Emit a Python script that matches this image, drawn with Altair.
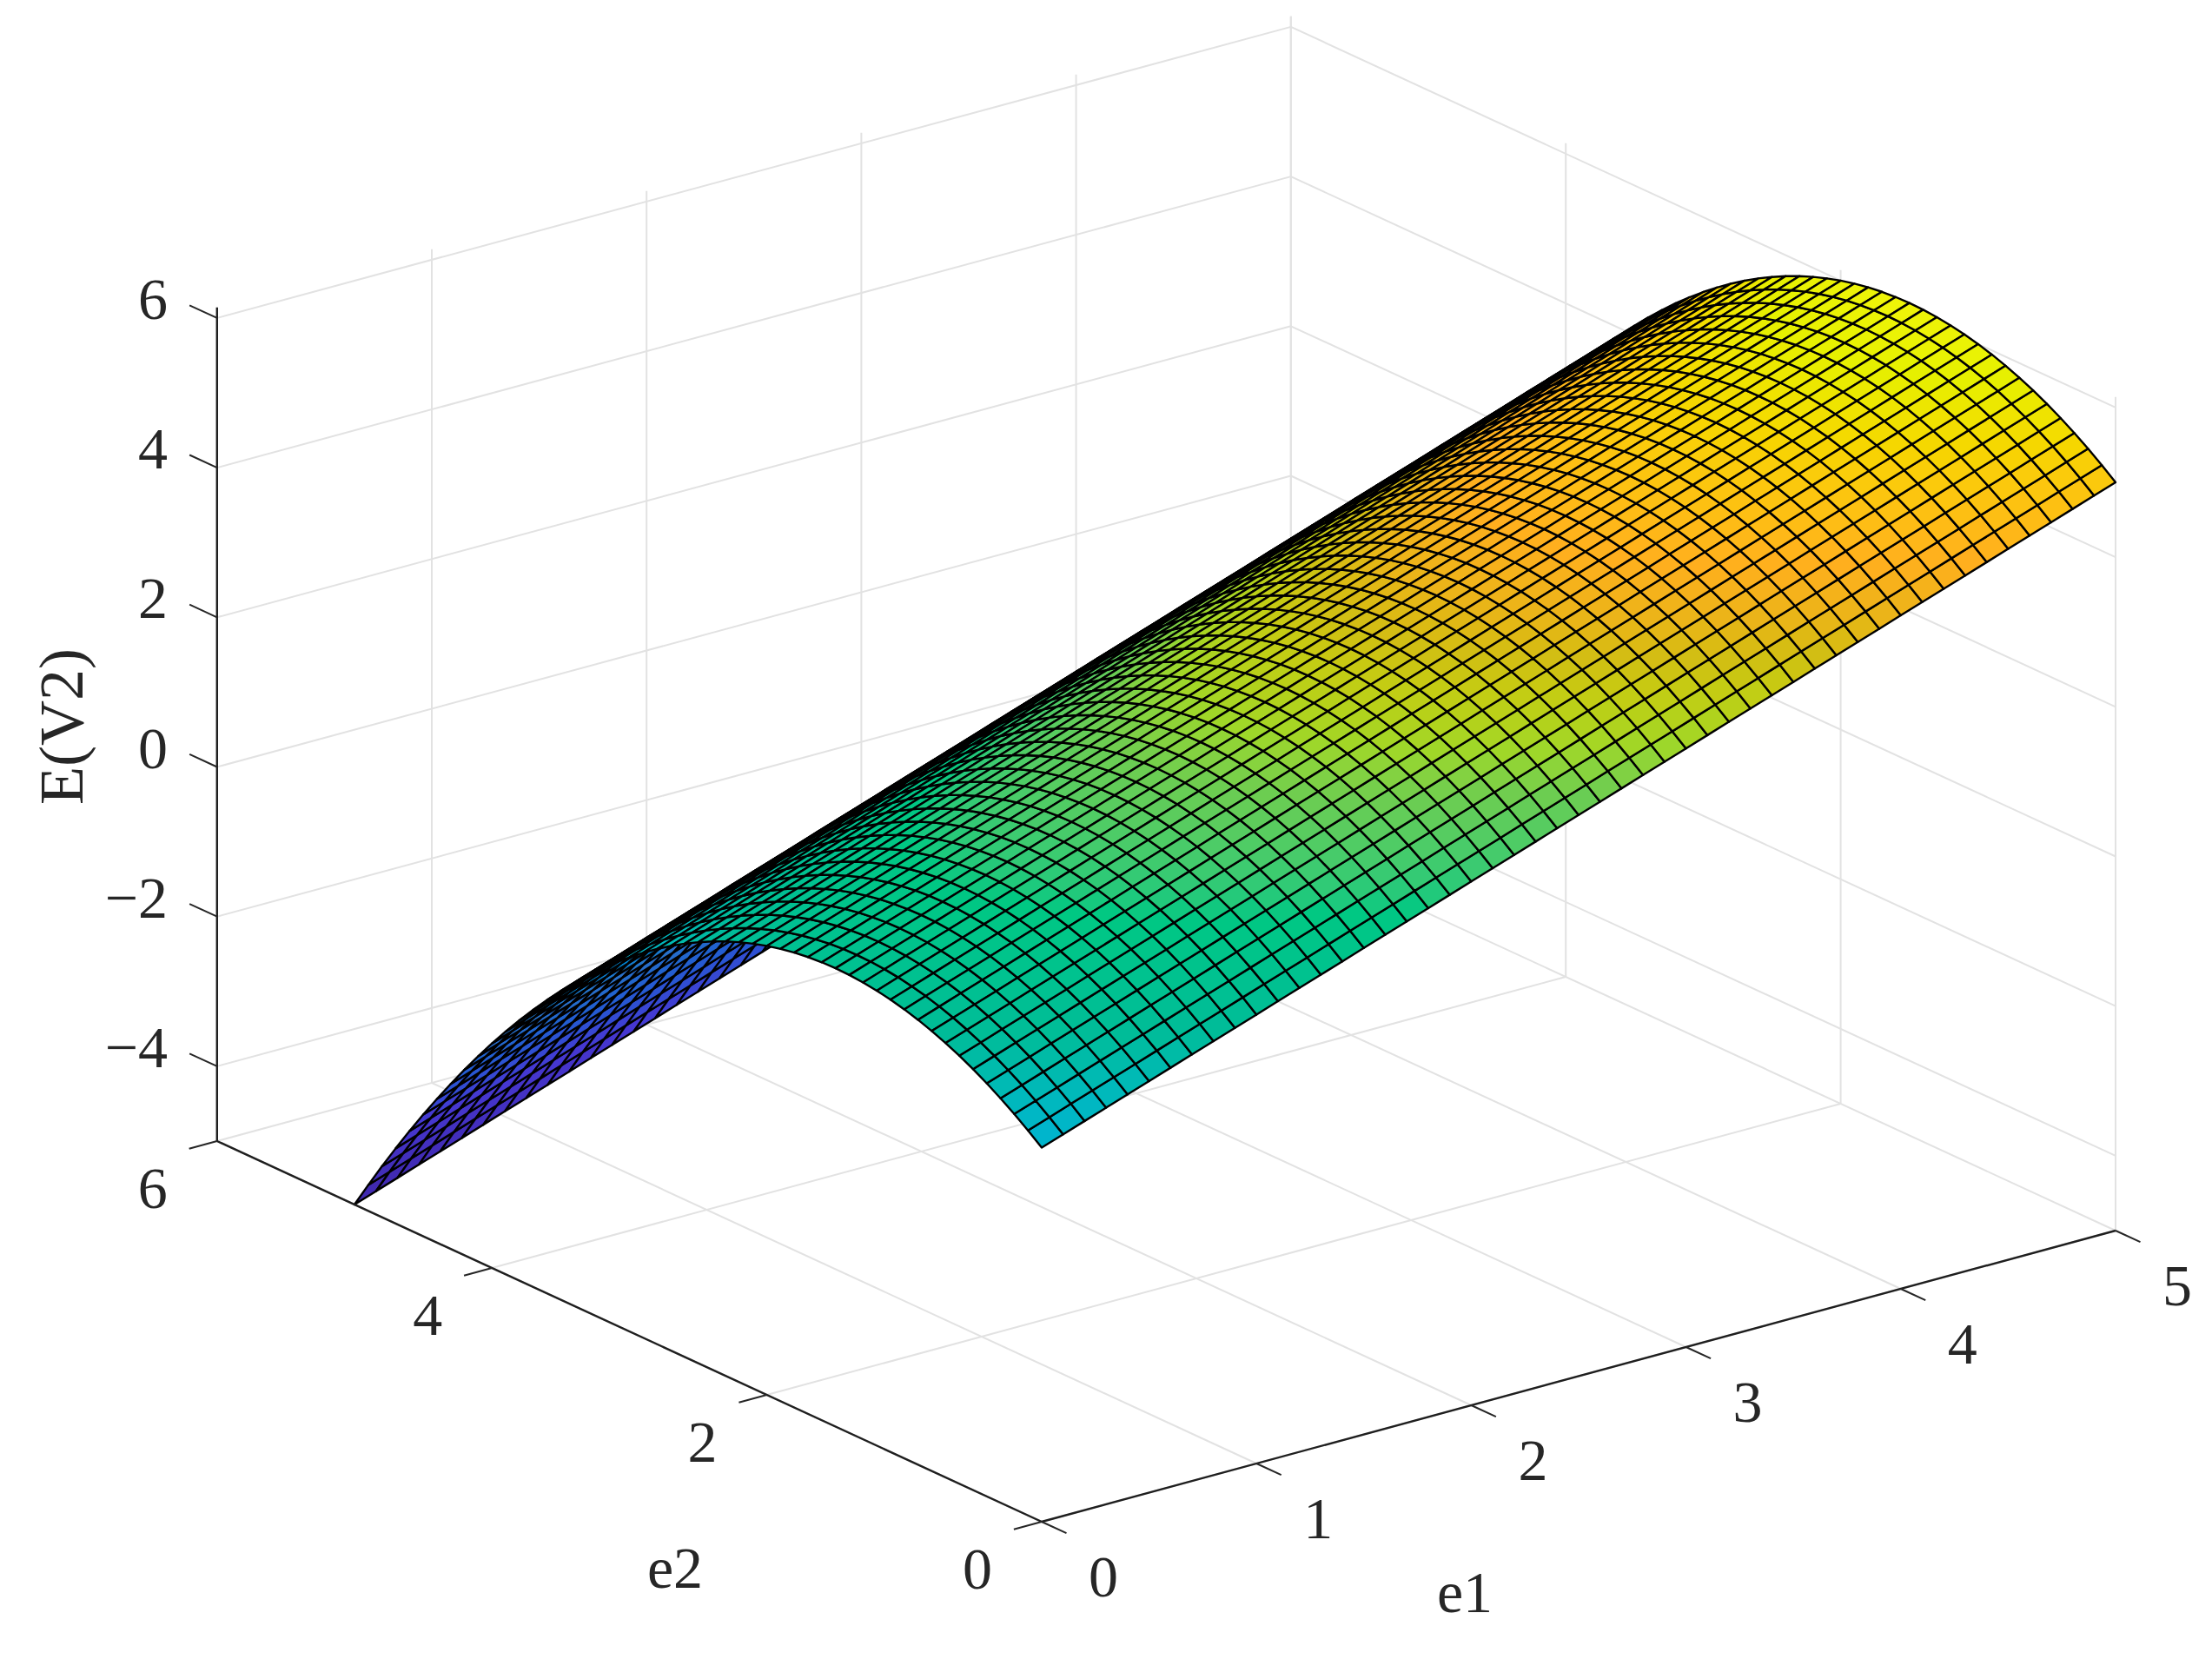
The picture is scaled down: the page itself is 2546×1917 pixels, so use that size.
import altair as alt
import pandas as pd

alt.data_transformers.disable_max_rows()

# ---------- values ----------
e1_nodes = [0.0,0.1,0.2,0.3,0.4,0.5,0.6,0.7,0.8,0.9,1.0,1.1,1.2,1.3,1.4,1.5,1.6,1.7,1.8,1.9,
            2.0,2.1,2.2,2.3,2.4,2.5,2.6,2.7,2.8,2.9,3.0,3.1,3.2,3.3,3.4,3.5,3.6,3.7,3.8,3.9,
            4.0,4.1,4.2,4.3,4.4,4.5,4.6,4.7,4.8,4.9,5.0]
e2_nodes = list(e1_nodes)
# height of the surface along the e1 = 0 edge, one value per e2 node
edge_height = [0.0,0.145,0.28,0.405,0.52,0.625,0.72,0.805,0.88,0.945,1.0,1.045,1.08,1.105,1.12,1.125,
               1.12,1.105,1.08,1.045,1.0,0.945,0.88,0.805,0.72,0.625,0.52,0.405,0.28,0.145,0.0,
               -0.155,-0.32,-0.495,-0.68,-0.875,-1.08,-1.295,-1.52,-1.755,-2.0,-2.255,-2.52,-2.795,
               -3.08,-3.375,-3.68,-3.995,-4.32,-4.655,-5.0]
# rise of the surface along e1, one value per e1 node
e1_rise = list(e1_nodes)

e1_ticks = [0, 1, 2, 3, 4, 5]
e2_ticks = [0, 2, 4, 6]
z_ticks = [-4, -2, 0, 2, 4, 6]
z_labels = ["\u22124", "\u22122", "0", "2", "4", "6"]
Z_BOTTOM, Z_TOP = -5.0, 6.14
Z_COLOR_TOP = 6.125
E1_MAX, E2_MAX = 5.0, 6.0

color_positions = [0, 0.143, 0.286, 0.429, 0.52, 0.60, 0.68, 0.712, 0.748, 0.773, 0.80, 0.836, 0.899, 0.96, 1]
color_stops = ["#3e26a8", "#4638d2", "#2a70c8", "#12b1d6", "#00bc98", "#00c882", "#6ecd50",
               "#a0d728", "#c3cd14", "#d2be14", "#ebb419", "#ffaf1e", "#facd0a", "#e6f000", "#f0f50a"]

# ---------- orthographic view ----------
W, H = 2530, 1901
OX, OY = 1199.0, 1751.0
E1X, E1Y = 247.2, -67.0
E2X, E2Y = -158.2, -73.0
ZY = -86.1
VIEW = (-1.0, -1.57, 2.12)


def px(e1, e2):
    return round(OX + E1X * e1 + E2X * e2, 2)


def py(e1, e2, z):
    return round(OY + E1Y * e1 + E2Y * e2 + ZY * (z - Z_BOTTOM), 2)


xs = alt.Scale(domain=[8, 8 + W], range=[0, W], nice=False, zero=False)
ys = alt.Scale(domain=[8, 8 + H], range=[0, H], nice=False, zero=False)


def seg_df(segs):
    return pd.DataFrame(
        [
            {"x": px(a[0], a[1]), "y": py(a[0], a[1], a[2]),
             "x2": px(b[0], b[1]), "y2": py(b[0], b[1], b[2])}
            for a, b in segs
        ]
    )


def rules(segs, color, width):
    return alt.Chart(seg_df(segs)).mark_rule(color=color, strokeWidth=width).encode(
        x=alt.X("x:Q", scale=xs, axis=None),
        y=alt.Y("y:Q", scale=ys, axis=None),
        x2="x2:Q",
        y2="y2:Q",
    )


# ---------- grid ----------
grid = []
for k in e1_ticks:
    grid.append(((k, 0, Z_BOTTOM), (k, E2_MAX, Z_BOTTOM)))
    grid.append(((k, E2_MAX, Z_BOTTOM), (k, E2_MAX, Z_TOP)))
for k in e2_ticks:
    grid.append(((0, k, Z_BOTTOM), (E1_MAX, k, Z_BOTTOM)))
    grid.append(((E1_MAX, k, Z_BOTTOM), (E1_MAX, k, Z_TOP)))
for k in z_ticks:
    grid.append(((0, E2_MAX, k), (E1_MAX, E2_MAX, k)))
    grid.append(((E1_MAX, E2_MAX, k), (E1_MAX, 0, k)))

# ---------- axes and ticks ----------
axes = [
    ((0, 0, Z_BOTTOM), (E1_MAX, 0, Z_BOTTOM)),
    ((0, 0, Z_BOTTOM), (0, E2_MAX, Z_BOTTOM)),
    ((0, E2_MAX, Z_BOTTOM), (0, E2_MAX, Z_TOP)),
]
ticks = []
for k in e1_ticks:
    ticks.append(((k, 0, Z_BOTTOM), (k, -0.18, Z_BOTTOM)))
for k in e2_ticks:
    ticks.append(((0, k, Z_BOTTOM), (-0.13, k, Z_BOTTOM)))
for k in z_ticks:
    ticks.append(((0, E2_MAX, k), (0, E2_MAX + 0.2, k)))

# ---------- surface ----------
cells = []
n1, n2 = len(e1_nodes), len(e2_nodes)
for i in range(n1 - 1):
    for j in range(n2 - 1):
        corners = [(i, j), (i + 1, j), (i + 1, j + 1), (i, j + 1)]
        pts = [(e1_nodes[a], e2_nodes[b], e1_rise[a] + edge_height[b]) for a, b in corners]
        depth = sum(VIEW[0] * p[0] + VIEW[1] * p[1] + VIEW[2] * p[2] for p in pts) / 4
        cells.append((depth, i * n2 + j, pts))
cells.sort(key=lambda c: c[0])

rows = []
for _, cid, pts in cells:
    level = pts[0][2]
    for v, p in enumerate(pts):
        rows.append({"cell": cid, "v": v, "x": px(p[0], p[1]), "y": py(p[0], p[1], p[2]), "level": level})
surface_df = pd.DataFrame(rows)

stop_domain = [Z_BOTTOM + (Z_COLOR_TOP - Z_BOTTOM) * t for t in color_positions]

surface = alt.Chart(surface_df).mark_line(
    interpolate="linear-closed", stroke="#000000", strokeWidth=2.4, strokeJoin="round"
).encode(
    x=alt.X("x:Q", scale=xs, axis=None),
    y=alt.Y("y:Q", scale=ys, axis=None),
    detail="cell:N",
    order="v:Q",
    fill=alt.Fill("level:Q", scale=alt.Scale(domain=stop_domain, range=color_stops), legend=None),
)

# ---------- text ----------
c_rows = []
for k in e1_ticks:
    c_rows.append({"t": str(k), "x": px(k, 0) + 71, "y": py(k, 0, Z_BOTTOM) + 66})
for k in e2_ticks:
    c_rows.append({"t": str(k), "x": px(0, k) - 74, "y": py(0, k, Z_BOTTOM) + 57})
c_labels = pd.DataFrame(c_rows)
r_labels = pd.DataFrame(
    [{"t": lab, "x": 193, "y": py(0, E2_MAX, k) - 19} for k, lab in zip(z_ticks, z_labels)]
)

FONT = "Liberation Serif"
FS = 68


def text_layer(df, align, size=FS, angle=0):
    return alt.Chart(df).mark_text(
        font=FONT, fontSize=size, align=align, baseline="middle", color="#262626", angle=angle
    ).encode(
        x=alt.X("x:Q", scale=xs, axis=None),
        y=alt.Y("y:Q", scale=ys, axis=None),
        text="t:N",
    )


titles = pd.DataFrame([
    {"t": "e1", "x": 1686, "y": 1835},
    {"t": "e2", "x": 777, "y": 1807},
])
ytitle = pd.DataFrame([{"t": "E(V2)", "x": 73, "y": 836}])

chart = alt.layer(
    rules(grid, "#e2e2e2", 2.0),
    surface,
    rules(axes, "#1f1f1f", 2.4),
    rules(ticks, "#262626", 2.0),
    text_layer(c_labels, "center"),
    text_layer(r_labels, "right"),
    text_layer(titles, "center"),
    text_layer(ytitle, "center", size=72, angle=270),
).properties(width=W, height=H, padding=0, background="white").configure_view(stroke=None)

chart.save("out.html", embed_options={"renderer": "svg", "actions": False})
